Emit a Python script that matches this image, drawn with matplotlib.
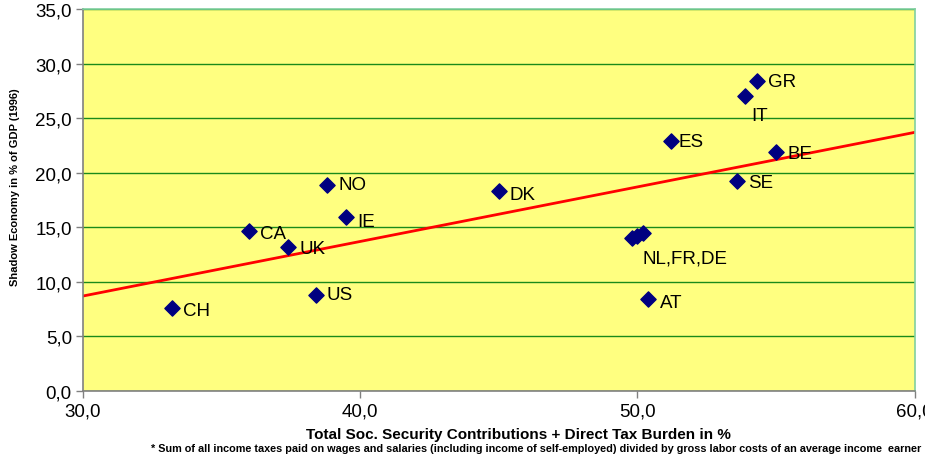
import numpy as np
import matplotlib.pyplot as plt

plt.rcParams['font.family'] = ['Liberation Sans', 'DejaVu Sans']

countries = ["GR", "IT", "ES", "BE", "SE", "NL", "FR", "DE", "AT", "DK",
             "NO", "IE", "CA", "UK", "US", "CH"]
tax_burden = [54.3, 53.9, 51.2, 55.0, 53.6, 49.8, 50.0, 50.2, 50.4, 45.0,
              38.8, 39.5, 36.0, 37.4, 38.4, 33.2]
shadow_econ = [28.4, 27.0, 22.9, 21.9, 19.2, 14.0, 14.2, 14.5, 8.4, 18.3,
               18.9, 15.9, 14.7, 13.2, 8.8, 7.6]

# trend line
trend_x = [29.0, 60.0]
trend_intercept = 8.7   # value at x = 30
trend_slope = 0.5

# label placement: (text, dx, dy) in points; empty text = no label
labels = {
    "GR": ("GR", 8, 0), "IT": ("IT", 4, -14), "ES": ("ES", 6, 0),
    "BE": ("BE", 8, -1), "SE": ("SE", 8, -1), "NL": ("", 0, 0),
    "FR": ("", 0, 0), "DE": ("NL,FR,DE", 0, -18), "AT": ("AT", 8, -2),
    "DK": ("DK", 8, -2), "NO": ("NO", 8, 0), "IE": ("IE", 8, -3),
    "CA": ("CA", 8, -2), "UK": ("UK", 8, -1), "US": ("US", 8, 0),
    "CH": ("CH", 8, -2),
}

fig = plt.figure(figsize=(9.25, 4.6), dpi=100)
ax = fig.add_axes([0.0897, 0.148, 0.899, 0.83])
ax.set_facecolor("#ffff80")

ax.set_xlim(30, 60)
ax.set_ylim(0, 35)
ax.set_yticks(np.arange(0, 36, 5))
ax.set_xticks([30, 40, 50, 60])
fmt = lambda v: f"{v:.1f}".replace(".", ",")
ax.set_yticklabels([fmt(v) for v in np.arange(0, 36, 5)], fontsize=13.5)
ax.set_xticklabels([fmt(v) for v in [30, 40, 50, 60]], fontsize=13.5)
ax.grid(axis="y", color="#1a8a1a", linewidth=1.0)
ax.set_axisbelow(True)
ax.tick_params(color="#808080", length=5, width=1, pad=3)

for s in ["left", "bottom"]:
    ax.spines[s].set_color("#808080")
    ax.spines[s].set_linewidth(1.2)
for s in ["top", "right"]:
    ax.spines[s].set_color("#80d0a0")
    ax.spines[s].set_linewidth(1.2)

tx = np.array(trend_x)
ax.plot(tx, trend_intercept + trend_slope * (tx - 30), color="#ff0000",
        linewidth=2, zorder=2, clip_on=True)

ax.scatter(tax_burden, shadow_econ, marker="D", s=60, color="#000080",
           zorder=3)

for c, x, y in zip(countries, tax_burden, shadow_econ):
    text, dx, dy = labels[c]
    if text:
        ax.annotate(text, (x, y), xytext=(dx, dy), textcoords="offset points",
                    ha="left", va="center", fontsize=13.5, color="black")

ax.set_ylabel("Shadow Economy in % of GDP (1996)", fontsize=8,
              fontweight="bold")
ax.yaxis.set_label_coords(-0.076, 0.537)
ax.set_xlabel("Total Soc. Security Contributions + Direct Tax Burden in %",
              fontsize=11, fontweight="bold")
ax.xaxis.set_label_coords(0.524, -0.113)
ax.xaxis.label.set_va("center")
fig.text(0.58, 0.012,
         "* Sum of all income taxes paid on wages and salaries (including income "
         "of self-employed) divided by gross labor costs of an average income  earner",
         fontsize=7.8, fontweight="bold", ha="center", va="bottom")

fig.savefig("out.png", dpi=100)
